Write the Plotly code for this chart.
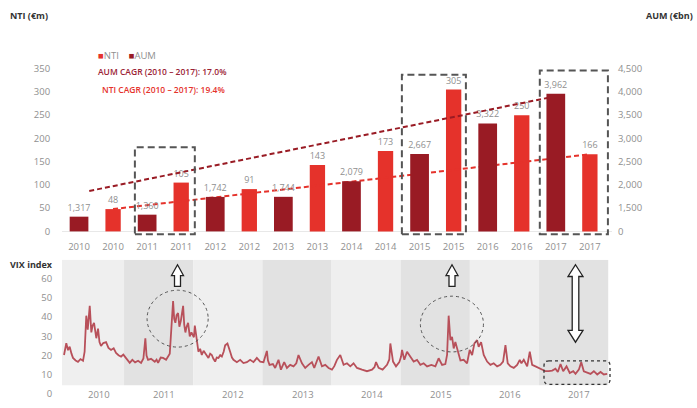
import plotly.graph_objects as go

W, H = 697, 408

# ---------------- data ----------------
years = [2010, 2011, 2012, 2013, 2014, 2015, 2016, 2017]
aum = [1317, 1360, 1742, 1744, 2079, 2667, 3322, 3962]       # AUM (€bn)
nti = [48, 105, 91, 143, 173, 305, 250, 166]                 # NTI (€m)
nti_ticks = [0, 50, 100, 150, 200, 250, 300, 350]
aum_ticks = [1000, 1500, 2000, 2500, 3000, 3500, 4000, 4500]
aum_tick_text = ["0", "1,500", "2,000", "2,500", "3,000", "3,500", "4,000", "4,500"]
aum_axis_break = 1000          # the right axis is broken: its "0" stands at 1,000
aum_trend = [1870, 3870]       # dashed AUM trend line, as drawn
aum_trend_idx = [0.3, 13.75]
highlight_years = [2011, 2015, 2017]
highlight_tops = [181, 337, 346]   # NTI-scale height of dashed boxes

vix_t = [2010.132, 2010.165, 2010.19, 2010.214, 2010.24, 2010.262, 2010.3, 2010.334, 2010.37,
         2010.407, 2010.43, 2010.454, 2010.475, 2010.504, 2010.527, 2010.545, 2010.566, 2010.599,
         2010.624, 2010.645, 2010.667, 2010.7, 2010.74, 2010.775, 2010.812, 2010.85, 2010.884,
         2010.92, 2010.957, 2010.99, 2011.029, 2011.055, 2011.082, 2011.12, 2011.16, 2011.203,
         2011.246, 2011.28, 2011.308, 2011.325, 2011.347, 2011.39, 2011.444, 2011.47, 2011.492,
         2011.53, 2011.564, 2011.608, 2011.64, 2011.661, 2011.709, 2011.725, 2011.742, 2011.76,
         2011.781, 2011.8, 2011.821, 2011.854, 2011.87, 2011.887, 2011.905, 2011.926, 2011.95,
         2011.974, 2012.01, 2012.023, 2012.045, 2012.075, 2012.1, 2012.124, 2012.15, 2012.172,
         2012.195, 2012.22, 2012.245, 2012.269, 2012.29, 2012.317, 2012.34, 2012.365, 2012.39,
         2012.414, 2012.44, 2012.462, 2012.495, 2012.515, 2012.534, 2012.56, 2012.582, 2012.631,
         2012.679, 2012.726, 2012.776, 2012.823, 2012.871, 2012.92, 2012.968, 2013.016, 2013.065,
         2013.08, 2013.103, 2013.152, 2013.185, 2013.233, 2013.268, 2013.315, 2013.355, 2013.402,
         2013.45, 2013.49, 2013.522, 2013.572, 2013.619, 2013.667, 2013.716, 2013.75, 2013.812,
         2013.861, 2013.909, 2013.957, 2014.006, 2014.04, 2014.078, 2014.126, 2014.174, 2014.223,
         2014.271, 2014.318, 2014.368, 2014.44, 2014.512, 2014.585, 2014.62, 2014.643, 2014.68,
         2014.738, 2014.802, 2014.835, 2014.85, 2014.889, 2014.932, 2014.98, 2015.005, 2015.019,
         2015.052, 2015.091, 2015.139, 2015.187, 2015.236, 2015.284, 2015.331, 2015.381, 2015.443,
         2015.501, 2015.548, 2015.598, 2015.645, 2015.67, 2015.693, 2015.718, 2015.742, 2015.766,
         2015.79, 2015.829, 2015.863, 2015.91, 2015.959, 2015.997, 2016.032, 2016.065, 2016.104,
         2016.127, 2016.162, 2016.2, 2016.249, 2016.297, 2016.344, 2016.394, 2016.441, 2016.48,
         2016.514, 2016.547, 2016.586, 2016.634, 2016.683, 2016.721, 2016.745, 2016.779, 2016.828,
         2016.866, 2016.9, 2016.948, 2016.996, 2017.045, 2017.093, 2017.14, 2017.19, 2017.237,
         2017.271, 2017.31, 2017.349, 2017.397, 2017.444, 2017.494, 2017.527, 2017.575, 2017.61,
         2017.647, 2017.696, 2017.744, 2017.792, 2017.841, 2017.889, 2017.936, 2017.985]
vix_v = [20.3, 26.4, 22.8, 24.6, 21.0, 18.8, 17.5, 16.8, 18.2,
         17.3, 22.0, 40.7, 33.5, 45.8, 32.0, 35.5, 37.0, 29.0,
         34.0, 27.0, 25.0, 26.5, 27.0, 24.0, 22.9, 23.8, 21.4,
         20.2, 19.5, 20.5, 18.7, 17.2, 16.2, 17.8, 16.5, 17.3,
         16.2, 18.5, 29.0, 20.0, 17.8, 18.3, 16.8, 17.9, 16.2,
         19.0, 18.8, 17.8, 19.5, 21.0, 48.3, 39.0, 37.0, 41.0,
         42.0, 35.0, 38.0, 45.8, 36.0, 32.0, 35.0, 37.0, 30.0,
         32.0, 29.5, 35.6, 30.0, 22.0, 23.5, 20.3, 22.5, 21.3,
         19.5, 18.8, 21.0, 20.3, 18.5, 16.9, 19.0, 18.8, 20.2,
         19.5, 22.0, 25.4, 26.3, 23.5, 22.0, 19.0, 17.8, 16.6,
         17.8, 16.1, 16.6, 17.8, 16.6, 18.8, 16.9, 16.6, 22.4,
         17.5, 15.2, 15.6, 13.6, 17.8, 12.7, 16.6, 13.6, 15.2,
         14.4, 16.0, 20.3, 16.0, 13.6, 15.2, 16.6, 13.6, 19.5,
         14.4, 15.2, 13.6, 12.7, 14.5, 17.8, 20.3, 15.2, 16.0,
         14.4, 16.0, 13.6, 12.7, 11.9, 12.7, 14.0, 16.6, 13.6,
         12.7, 15.2, 18.0, 26.3, 16.9, 14.4, 16.6, 19.5, 22.9,
         17.8, 22.0, 19.5, 16.9, 17.8, 15.2, 16.0, 14.4, 15.2,
         14.4, 18.6, 15.2, 15.6, 20.3, 40.7, 28.0, 29.7, 23.7,
         27.0, 22.0, 17.5, 17.8, 16.0, 22.9, 20.3, 26.3, 28.0,
         24.6, 27.0, 20.3, 16.9, 15.2, 16.0, 14.4, 15.2, 16.9,
         25.4, 16.0, 14.4, 13.6, 15.2, 17.8, 16.0, 17.8, 14.4,
         22.0, 15.2, 14.4, 13.6, 12.7, 11.9, 11.9, 12.2, 13.2,
         11.5, 15.6, 11.9, 14.4, 11.0, 11.9, 10.5, 12.7, 16.6,
         11.9, 11.0, 10.5, 11.9, 10.2, 11.5, 10.2, 10.5]
vix_ticks = [0, 10, 20, 30, 40, 50, 60]
vix_range = [2010.103, 2018.04]

# ---------------- styles ----------------
NTI_RED = "#e5322b"
AUM_RED = "#991b24"
GRAY = "#8f8f8f"
DARK = "#333333"
FONT = "Open Sans"


def px(x):
    return x / W


def py(y):
    return 1 - y / H


def ppath(cmds):
    out = []
    for c in cmds:
        if isinstance(c, str):
            out.append(c)
        else:
            out.append(f"{px(c[0]):.5f},{py(c[1]):.5f}")
    return " ".join(out)


pos_aum = [2 * i for i in range(len(years))]
pos_nti = [2 * i + 1 for i in range(len(years))]

fig = go.Figure()

# AUM bars (right axis, broken at aum_axis_break)
fig.add_bar(
    x=pos_aum, y=[a - aum_axis_break for a in aum], base=aum_axis_break,
    xaxis="x", yaxis="y2", width=0.55, marker=dict(color=AUM_RED, line_width=0),
    text=[f"{a:,}" for a in aum], textposition="outside", cliponaxis=False,
    textfont=dict(family=FONT, size=9, color=GRAY), showlegend=False, name="AUM")
# NTI bars (left axis)
fig.add_bar(
    x=pos_nti, y=nti, xaxis="x", yaxis="y", width=0.45,
    marker=dict(color=NTI_RED, line_width=0),
    text=[str(v) for v in nti], textposition="outside", cliponaxis=False,
    textfont=dict(family=FONT, size=9, color=GRAY), showlegend=False, name="NTI")

# trend lines
fig.add_scatter(x=aum_trend_idx, y=aum_trend, xaxis="x", yaxis="y2", mode="lines",
                line=dict(color=AUM_RED, width=2, dash="5px,3px"), showlegend=False)
fig.add_scatter(x=[pos_nti[0], pos_nti[-1]], y=[nti[0], nti[-1]], xaxis="x", yaxis="y",
                mode="lines", line=dict(color=NTI_RED, width=2, dash="5px,3px"),
                showlegend=False)

# VIX line
fig.add_scatter(x=vix_t, y=vix_v, xaxis="x3", yaxis="y3", mode="lines",
                line=dict(color="#b8505a", width=1.8), showlegend=False)

shapes = []
# dashed highlight boxes on the bar chart
box_pad = {2011: (0.36, 0.4), 2015: (0.52, 0.36), 2017: (0.47, 0.53)}
for yr, top in zip(highlight_years, highlight_tops):
    i = years.index(yr)
    lp, rp = box_pad[yr]
    shapes.append(dict(type="rect", xref="x", yref="y",
                       x0=pos_aum[i] - lp, x1=pos_nti[i] + rp, y0=-6, y1=top,
                       line=dict(color="#555555", width=2, dash="7px,4px"),
                       fillcolor="rgba(0,0,0,0)"))

# alternating year bands on the VIX chart
for i, yr in enumerate(years):
    shapes.append(dict(type="rect", xref="x3", yref="y3", x0=yr, x1=yr + 1,
                       y0=4.6, y1=69.65, layer="below", line_width=0,
                       fillcolor="#efefef" if i % 2 == 0 else "#e2e2e2"))

# dotted circles
shapes.append(dict(type="circle", xref="x3", yref="y3", x0=2011.333, x1=2012.216,
                   y0=24.4, y1=53.9, line=dict(color="#555555", width=1, dash="dot")))
shapes.append(dict(type="circle", xref="x3", yref="y3", x0=2015.284, x1=2016.196,
                   y0=21.9, y1=50.8, line=dict(color="#555555", width=1, dash="dot")))

# rounded dashed box around 2017 VIX
r = 5
x0, x1, y0, y1 = 544, 610, 366, 390
shapes.append(dict(type="path", xref="paper", yref="paper",
                   path=ppath(["M", (x0 + r, y0), "L", (x1 - r, y0), "Q", (x1, y0), (x1, y0 + r),
                               "L", (x1, y1 - r), "Q", (x1, y1), (x1 - r, y1),
                               "L", (x0 + r, y1), "Q", (x0, y1), (x0, y1 - r),
                               "L", (x0, y0 + r), "Q", (x0, y0), (x0 + r, y0), "Z"]),
                   line=dict(color="#333333", width=1.3, dash="dot")))


def up_arrow(cx, t, b, h=11, hw=6, sw=3):
    return ppath(["M", (cx, t), "L", (cx + hw, t + h), "L", (cx + sw, t + h), "L", (cx + sw, b),
                  "L", (cx - sw, b), "L", (cx - sw, t + h), "L", (cx - hw, t + h), "Z"])


def double_arrow(cx, t, b, h=12, hw=7.5, sw=3.3):
    return ppath(["M", (cx, t), "L", (cx + hw, t + h), "L", (cx + sw, t + h), "L", (cx + sw, b - h),
                  "L", (cx + hw, b - h), "L", (cx, b), "L", (cx - hw, b - h),
                  "L", (cx - sw, b - h), "L", (cx - sw, t + h), "L", (cx - hw, t + h), "Z"])


for p in [up_arrow(177.5, 268, 290), up_arrow(452, 268, 290), double_arrow(575.5, 268, 347)]:
    shapes.append(dict(type="path", xref="paper", yref="paper", path=p,
                       fillcolor="white", line=dict(color="#222222", width=1.3)))

annotations = []
# year labels under VIX chart
for yr in years:
    lo, hi = max(yr, vix_range[0]), min(yr + 1, vix_range[1])
    annotations.append(dict(x=(lo + hi) / 2 + 0.08, y=0, xref="x3", yref="y3", text=str(yr),
                            showarrow=False, yanchor="middle",
                            font=dict(family=FONT, size=9.5, color=GRAY)))

aum_cagr = (aum[-1] / aum[0]) ** (1 / (years[-1] - years[0])) - 1
nti_cagr = (nti[-1] / nti[0]) ** (1 / (years[-1] - years[0])) - 1

annotations += [
    dict(x=px(8), y=py(14), xref="paper", yref="paper", xanchor="left", yanchor="middle",
         text="<b>NTI (€m)</b>", showarrow=False, font=dict(family=FONT, size=9, color=DARK)),
    dict(x=px(695), y=py(14), xref="paper", yref="paper", xanchor="right", yanchor="middle",
         text="<b>AUM (€bn)</b>", showarrow=False, font=dict(family=FONT, size=9, color=DARK)),
    dict(x=px(8), y=py(268), xref="paper", yref="paper", xanchor="left", yanchor="middle",
         text="<b>VIX index</b>", showarrow=False, font=dict(family=FONT, size=9, color=DARK)),
    dict(x=px(96), y=py(55), xref="paper", yref="paper", xanchor="left", yanchor="middle",
         text=f"<span style='color:{NTI_RED}'>■</span>NTI    "
              f"<span style='color:{AUM_RED}'>■</span>AUM",
         showarrow=False, font=dict(family=FONT, size=9.5, color=GRAY)),
    dict(x=px(96), y=py(71), xref="paper", yref="paper", xanchor="left", yanchor="middle",
         text=f"AUM CAGR ({years[0]} – {years[-1]}): {aum_cagr * 100:.1f}%",
         showarrow=False, font=dict(family=FONT, size=8.5, color="#9b2335", weight=600)),
    dict(x=px(100), y=py(89), xref="paper", yref="paper", xanchor="left", yanchor="middle",
         text=f"NTI CAGR ({years[0]} – {years[-1]}): {nti_cagr * 100:.1f}%",
         showarrow=False, font=dict(family=FONT, size=8.5, color=NTI_RED, weight=600)),
]

tick_font = dict(family=FONT, size=9.5, color=GRAY)
fig.update_layout(
    width=W, height=H, margin=dict(l=0, r=0, t=0, b=0),
    paper_bgcolor="white", plot_bgcolor="white", barmode="overlay",
    shapes=shapes, annotations=annotations, showlegend=False,
    xaxis=dict(domain=[px(62), px(612)], range=[-0.5, 15.65], anchor="y",
               tickvals=pos_aum + pos_nti,
               ticktext=[str(y) for y in years] * 2,
               tickfont=tick_font, showgrid=False, zeroline=False, showline=False,
               ticks="outside", ticklen=2, tickcolor="rgba(0,0,0,0)"),
    yaxis=dict(domain=[py(238.74), py(63.26)], range=[-10, 360], anchor="x",
               tickvals=nti_ticks, tickfont=tick_font, showgrid=False,
               zeroline=True, zerolinecolor="#e8e8e8", zerolinewidth=1,
               ticks="outside", ticklen=9, tickcolor="rgba(0,0,0,0)"),
    yaxis2=dict(overlaying="y", side="right", anchor="x",
                range=[aum_axis_break - 100, aum_axis_break + 3600],
                tickvals=aum_ticks, ticktext=aum_tick_text, tickfont=tick_font,
                showgrid=False, zeroline=False,
                ticks="outside", ticklen=3, tickcolor="rgba(0,0,0,0)"),
    xaxis3=dict(domain=[px(62), px(611)], range=vix_range, anchor="y3",
                showticklabels=False, showgrid=False, zeroline=False, showline=False),
    yaxis3=dict(domain=[py(400), py(263)], range=[0, 69.65], anchor="x3",
                tickvals=vix_ticks, tickfont=tick_font, showgrid=False, zeroline=False,
                ticks="outside", ticklen=7, tickcolor="rgba(0,0,0,0)"),
)
fig.update_traces(constraintext="none", selector=dict(type="bar"))

fig.write_html("out.html", post_script="document.body.style.margin='0';",
               config={"displayModeBar": False})
